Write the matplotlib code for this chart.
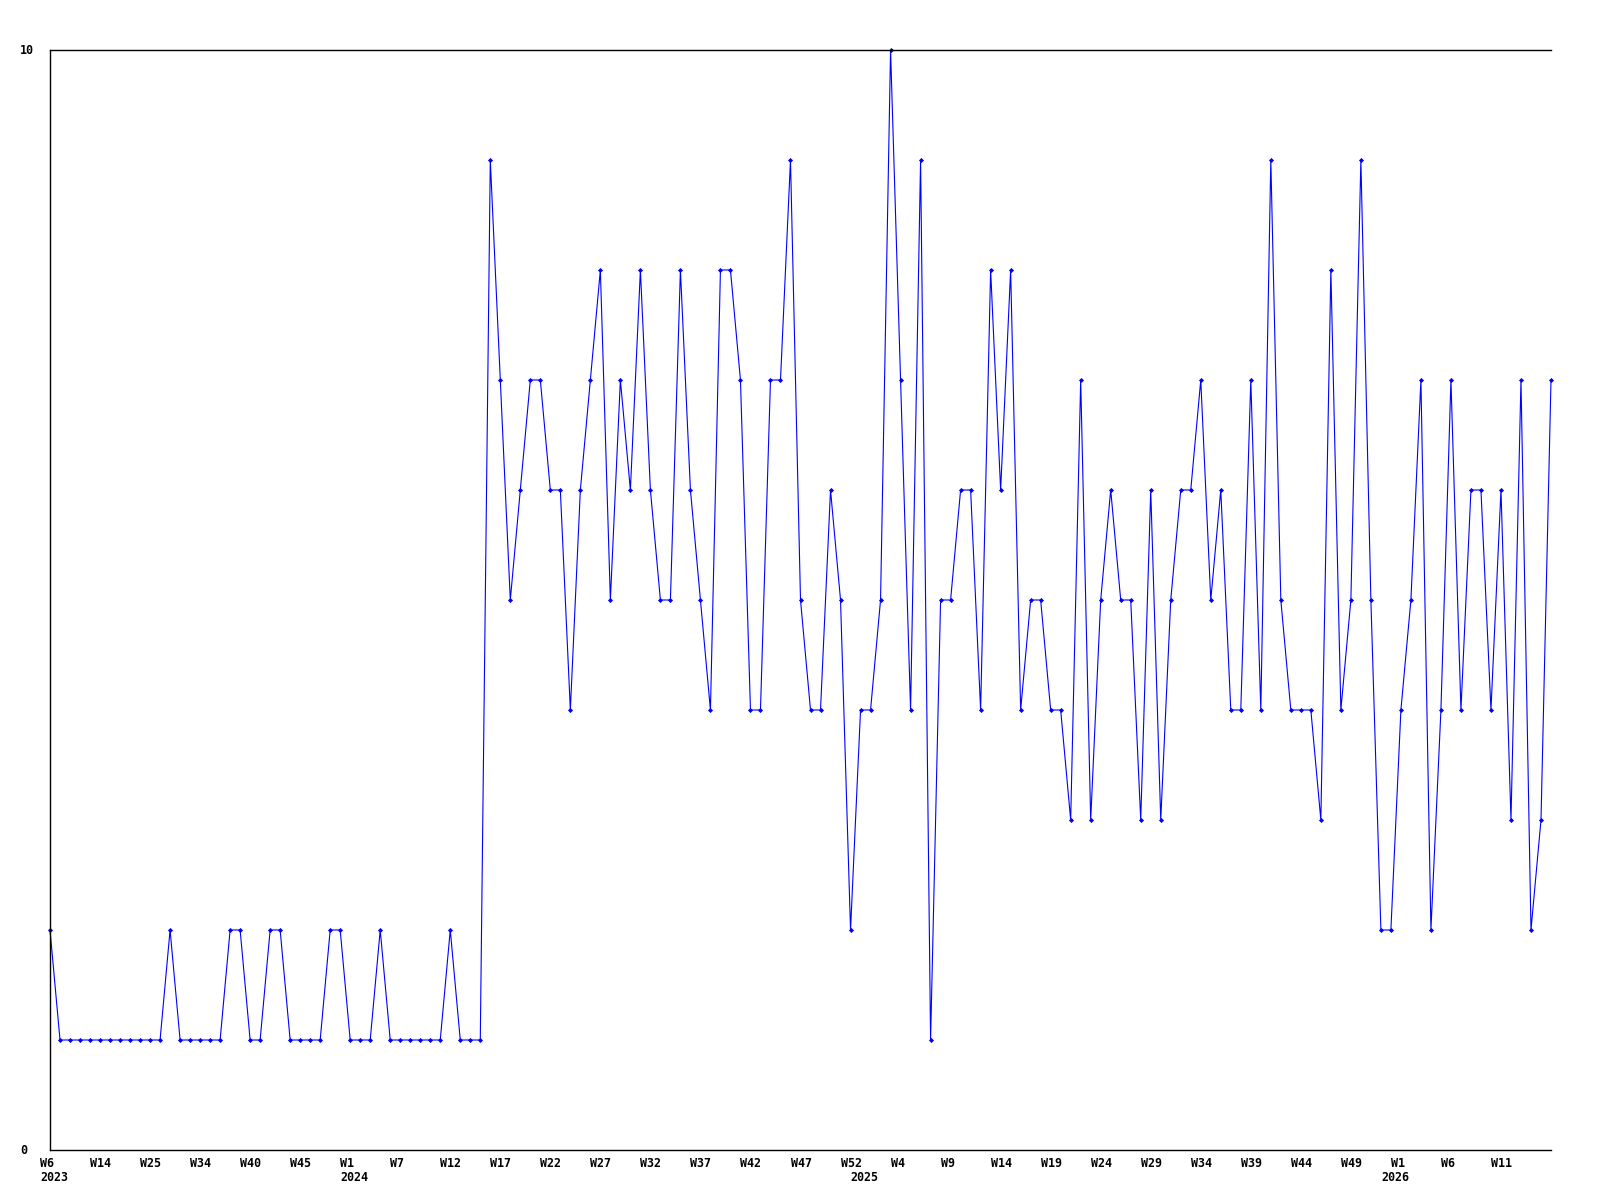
import matplotlib.pyplot as plt
from matplotlib.transforms import ScaledTranslation

# weekly counts, one point per recorded week
values = [
    2, 1, 1, 1, 1, 1, 1, 1, 1, 1, 1, 1, 2, 1, 1, 1, 1, 1, 2, 2,
    1, 1, 2, 2, 1, 1, 1, 1, 2, 2, 1, 1, 1, 2, 1, 1, 1, 1, 1, 1,
    2, 1, 1, 1, 9, 7, 5, 6, 7, 7, 6, 6, 4, 6, 7, 8, 5, 7, 6, 8,
    6, 5, 5, 8, 6, 5, 4, 8, 8, 7, 4, 4, 7, 7, 9, 5, 4, 4, 6, 5,
    2, 4, 4, 5, 10, 7, 4, 9, 1, 5, 5, 6, 6, 4, 8, 6, 8, 4, 5, 5,
    4, 4, 3, 7, 3, 5, 6, 5, 5, 3, 6, 3, 5, 6, 6, 7, 5, 6, 4, 4,
    7, 4, 9, 5, 4, 4, 4, 3, 8, 4, 5, 9, 5, 2, 2, 4, 5, 7, 2, 4,
    7, 4, 6, 6, 4, 6, 3, 7, 2, 3, 7,
]

# tick labels, one every 5 points
week_labels = ['W6', 'W14', 'W25', 'W34', 'W40', 'W45', 'W1', 'W7', 'W12', 'W17',
               'W22', 'W27', 'W32', 'W37', 'W42', 'W47', 'W52', 'W4', 'W9', 'W14',
               'W19', 'W24', 'W29', 'W34', 'W39', 'W44', 'W49', 'W1', 'W6', 'W11']
tick_step = 5

# year labels at the first point of each year
years = ['2023', '2024', '2025', '2026']
year_start = [0, 30, 81, 134]

font = dict(family='DejaVu Sans Mono', weight='bold', size=8.4)

fig = plt.figure(figsize=(16, 12), dpi=100)
ax = fig.add_axes([50 / 1600, 50 / 1200, 1501 / 1600, 1100 / 1200])

x = list(range(len(values)))
ax.plot(x, values, color='#0000ff', linewidth=0.8, marker='D', markersize=2.6,
        markerfacecolor='#0000ff', markeredgewidth=0, clip_on=False)

ax.set_xlim(0, len(values) - 1)
ax.set_ylim(0, 10)

for side in ['left', 'top', 'bottom']:
    ax.spines[side].set_linewidth(1.0)
    ax.spines[side].set_color('black')
ax.spines['right'].set_visible(False)

# x ticks: left aligned, shifted 10 px to the left
ticks = x[::tick_step][:len(week_labels)]
ax.set_xticks(ticks)
ax.set_xticklabels(week_labels, ha='left', **font)
ax.tick_params(axis='x', length=0, pad=5)
shift = ScaledTranslation(-10 / 100, 0, fig.dpi_scale_trans)
for lab in ax.get_xticklabels():
    lab.set_transform(lab.get_transform() + shift)

for yr, pos in zip(years, year_start):
    ax.text(pos, 0, yr, transform=ax.get_xaxis_transform() + ScaledTranslation(-10 / 100, -21 / 100, fig.dpi_scale_trans),
            ha='left', va='top', **font)

# y labels: only 0 and 10, at the left edge
ax.set_yticks([])
fig.text(20 / 1600, 1 - 50 / 1200, '10', ha='left', va='center', **font)
fig.text(20 / 1600, 50 / 1200, '0', ha='left', va='center', **font)

fig.savefig('out.png', dpi=100)
